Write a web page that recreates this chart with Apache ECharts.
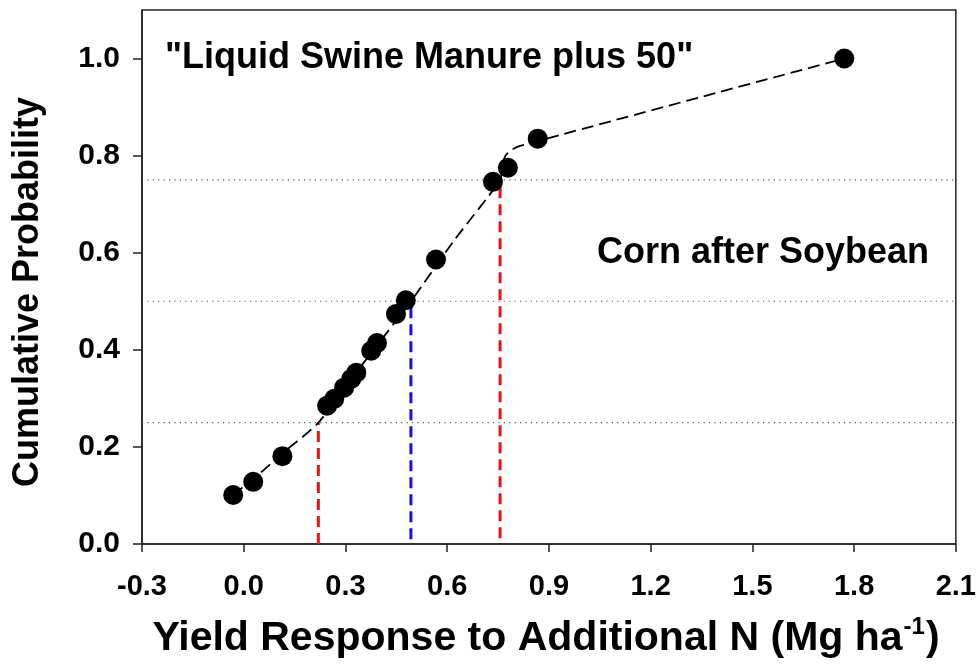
<!DOCTYPE html>
<html>
<head>
<meta charset="utf-8">
<script src="https://cdn.jsdelivr.net/npm/echarts@6/dist/echarts.min.js"></script>
<style>
html,body{margin:0;padding:0;background:#fff;}
#chart{width:979px;height:665px;}
</style>
</head>
<body>
<div id="chart"></div>
<script>
// Observed points (yield response, cumulative probability)
const obsX = [-0.031, 0.028, 0.114, 0.246, 0.267, 0.296, 0.317, 0.332, 0.376, 0.393, 0.449, 0.478, 0.567, 0.735, 0.779, 0.867, 1.771];
const obsY = [0.101, 0.128, 0.181, 0.285, 0.299, 0.322, 0.340, 0.353, 0.398, 0.414, 0.474, 0.502, 0.586, 0.746, 0.775, 0.835, 1.0];
// Fitted cumulative curve
const fitX = [-0.031, 0.05, 0.12, 0.22, 0.35, 0.493, 0.62, 0.756, 0.762, 0.772, 0.79, 0.82, 1.771];
const fitY = [0.101, 0.147, 0.19, 0.25, 0.37, 0.50, 0.625, 0.75, 0.78, 0.80, 0.812, 0.821, 1.0];
// Quartile reference levels
const quartileP = [0.25, 0.5, 0.75];
// Vertical drop lines: x, bottom, top
const dropX = [0.22, 0.493, 0.756];
const dropBottom = [0.0, 0.01, 0.012];
const dropTop = [0.25, 0.49, 0.745];
const dropColor = ['#ee1111', '#1111ee', '#ee1111'];
// Axis ticks
const xTicks = [-0.3, 0.0, 0.3, 0.6, 0.9, 1.2, 1.5, 1.8, 2.1];
const yTicks = [0.0, 0.2, 0.4, 0.6, 0.8, 1.0];

const titleText = '"Liquid Swine Manure plus 50"';
const noteText = 'Corn after Soybean';
const xTitle = 'Yield Response to Additional N (Mg ha';
const yTitle = 'Cumulative Probability';

const FONT = "'Liberation Sans', Arial, Helvetica, sans-serif";

const chart = echarts.init(document.getElementById('chart'), null, {renderer: 'canvas'});

const series = [];
quartileP.forEach(function (p) {
  series.push({
    type: 'line', silent: true, symbol: 'none', z: 1,
    data: [[xTicks[0], p], [xTicks[xTicks.length - 1], p]],
    lineStyle: {color: '#555', width: 1.2, type: [1.2, 4.2]}
  });
});
dropX.forEach(function (x, i) {
  series.push({
    type: 'line', silent: true, symbol: 'none', z: 2,
    data: [[x, dropBottom[i]], [x, dropTop[i]]],
    lineStyle: {color: dropColor[i], width: 3, type: [11, 6]}
  });
});
series.push({
  type: 'line', silent: true, symbol: 'none', z: 3,
  data: fitX.map(function (x, i) { return [x, fitY[i]]; }),
  smooth: 0.25,
  lineStyle: {color: '#000', width: 1.8, type: [12, 6]}
});
series.push({
  type: 'scatter', z: 4,
  data: obsX.map(function (x, i) { return [x, obsY[i]]; }),
  symbol: 'circle', symbolSize: 20,
  itemStyle: {color: '#000', opacity: 1}
});

chart.setOption({
  animation: false,
  backgroundColor: '#fff',
  grid: {left: 142, right: 21, top: 10, bottom: 121, show: true, borderColor: '#222', borderWidth: 1.5, backgroundColor: 'transparent'},
  xAxis: {
    type: 'value', min: -0.3, max: 2.1, interval: 0.3,
    axisLine: {show: true, onZero: false, lineStyle: {color: '#222', width: 1.5}},
    axisTick: {show: true, length: 8, lineStyle: {color: '#222', width: 1.5}, customValues: xTicks},
    axisLabel: {
      customValues: xTicks,
      margin: 28, color: '#000', fontFamily: FONT, fontWeight: 'bold', fontSize: 29,
      formatter: function (v) { return v.toFixed(1); }
    },
    splitLine: {show: false}
  },
  yAxis: {
    type: 'value', min: 0, max: 1.1, interval: 0.2,
    axisLine: {show: true, onZero: false, lineStyle: {color: '#222', width: 1.5}},
    axisTick: {show: true, length: 9, lineStyle: {color: '#222', width: 1.5}, customValues: yTicks},
    axisLabel: {
      customValues: yTicks,
      margin: 22, color: '#000', fontFamily: FONT, fontWeight: 'bold', fontSize: 30,
      formatter: function (v) { return v.toFixed(1); }
    },
    splitLine: {show: false}
  },
  graphic: [
    {type: 'text', left: 165, top: 40, z: 10,
     style: {text: titleText, fill: '#000', font: 'bold 36px ' + FONT}},
    {type: 'text', left: 597, top: 235, z: 10,
     style: {text: noteText, fill: '#000', font: 'bold 36px ' + FONT}},
    {type: 'text', x: 28, y: 292, rotation: Math.PI / 2, z: 10,
     style: {text: yTitle, fill: '#000', font: 'bold 36px ' + FONT, align: 'center', verticalAlign: 'middle'}},
    {type: 'text', x: 546, y: 639, z: 10,
     style: {
       text: '{a|' + xTitle + '}{s|-1}{a|)}',
       align: 'center', verticalAlign: 'middle',
       rich: {
         a: {fontFamily: FONT, fontWeight: 'bold', fontSize: 41, fill: '#000', color: '#000', lineHeight: 46},
         s: {fontFamily: FONT, fontWeight: 'bold', fontSize: 24, fill: '#000', color: '#000', lineHeight: 46, padding: [0, 1, 24, 1]}
       }
     }}
  ],
  series: series
});
</script>
</body>
</html>
